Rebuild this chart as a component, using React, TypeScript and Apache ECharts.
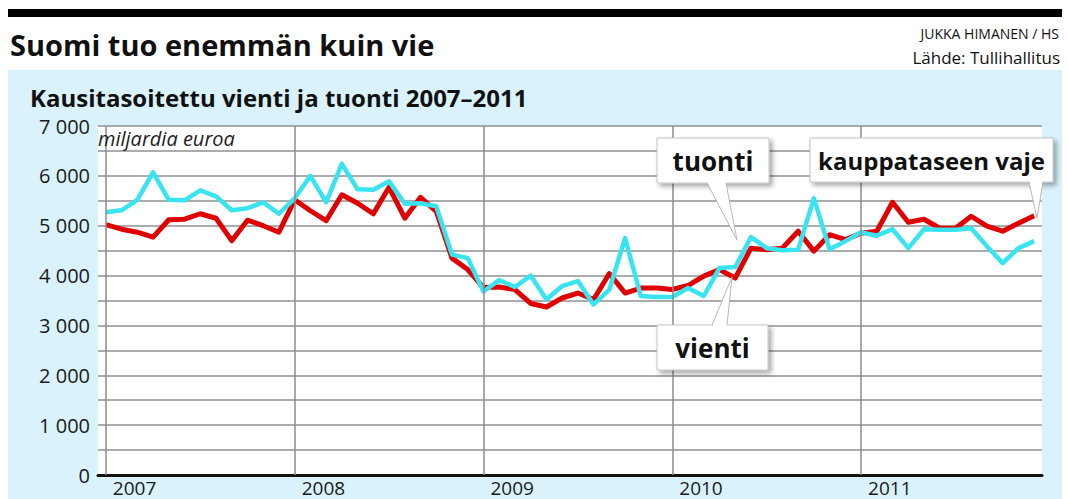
import React, { useEffect, useRef } from "react";
import * as echarts from "echarts";

const years = ["2007", "2008", "2009", "2010", "2011"];
const monthsPerYear = 12;
const months: string[] = [];
years.forEach((y) => {
  for (let m = 1; m <= monthsPerYear; m++) months.push(`${y}-${m < 10 ? "0" + m : m}`);
});

// vienti (export)
const vienti = [
  5020, 4930, 4870, 4770, 5120, 5130, 5240, 5150, 4700, 5110, 5000, 4870,
  5520, 5300, 5100, 5620, 5450, 5240, 5770, 5150, 5570, 5290, 4350, 4120,
  3760, 3770, 3720, 3440, 3370, 3550, 3650, 3520, 4040, 3650, 3750, 3750,
  3720, 3800, 3990, 4120, 3950, 4550, 4520, 4550, 4890, 4490, 4820, 4720,
  4850, 4890, 5470, 5070, 5130, 4950, 4950, 5190, 4990, 4890, 5050, 5200,
];

// tuonti (import)
const tuonti = [
  5270, 5310, 5520, 6070, 5520, 5510, 5710, 5590, 5310, 5350, 5470, 5240,
  5550, 6000, 5470, 6240, 5730, 5720, 5890, 5440, 5450, 5390, 4420, 4350,
  3680, 3910, 3770, 4000, 3520, 3790, 3890, 3420, 3720, 4750, 3590, 3570,
  3570, 3750, 3590, 4150, 4170, 4770, 4550, 4510, 4520, 5550, 4530, 4690,
  4870, 4800, 4930, 4550, 4930, 4920, 4920, 4950, 4590, 4250, 4550, 4690,
];

const yearStartIdx = [0, 12, 24, 36, 48];

const FONT = "'Open Sans', 'DejaVu Sans', sans-serif";

function callout(
  box: { x: number; y: number; w: number; h: number },
  label: string,
  fontSize: number,
  wedge: number[][],
  baseY: number,
  up: boolean
) {
  const [a, b, tip] = wedge;
  const inset = up ? 1.5 : -1.5;
  return [
    {
      type: "rect",
      z: 100,
      shape: { x: box.x, y: box.y, width: box.w, height: box.h },
      style: {
        fill: "#ffffff",
        stroke: "#c4c4c4",
        lineWidth: 1,
        shadowBlur: 5,
        shadowOffsetX: 3,
        shadowOffsetY: 3,
        shadowColor: "rgba(0,0,0,0.35)",
      },
    },
    {
      type: "polygon",
      z: 101,
      shape: { points: [[a[0], baseY + inset], [b[0], baseY + inset], tip] },
      style: { fill: "#ffffff" },
    },
    {
      type: "polyline",
      z: 102,
      shape: { points: [a, tip, b] },
      style: { stroke: "#b8b8b8", lineWidth: 1, fill: null },
    },
    {
      type: "text",
      z: 103,
      x: box.x + box.w / 2,
      y: box.y + box.h / 2,
      style: {
        text: label,
        fontSize,
        fontWeight: "bold",
        fontFamily: FONT,
        fill: "#111",
        align: "center",
        verticalAlign: "middle",
        textAlign: "center",
        textVerticalAlign: "middle",
      },
    },
  ];
}

export default function App() {
  const ref = useRef<HTMLDivElement>(null);
  useEffect(() => {
    if (!ref.current) return;
    const chart = echarts.init(ref.current, undefined, { renderer: "svg" });
    const fmt = (v: number) =>
      v % 1000 === 0 ? String(v).replace(/\B(?=(\d{3})+(?!\d))/g, " ") : "";
    chart.setOption({
      animation: false,
      backgroundColor: "#ffffff",
      grid: {
        left: 98,
        top: 126,
        width: 944,
        height: 349,
        show: true,
        backgroundColor: "#ffffff",
        borderWidth: 0,
      },
      xAxis: {
        type: "category",
        data: months,
        boundaryGap: true,
        axisLine: { show: true, lineStyle: { color: "#111", width: 3 } },
        axisTick: { show: false },
        splitLine: { show: false },
        axisLabel: {
          interval: (i: number) => i % monthsPerYear === 0,
          formatter: (v: string) => v.slice(0, 4),
          align: "left",
          padding: [0, 0, 0, 7],
          margin: 3,
          fontSize: 19,
          fontFamily: FONT,
          color: "#1a1a1a",
        },
      },
      yAxis: {
        type: "value",
        min: 0,
        max: 7000,
        interval: 500,
        axisLine: { show: false },
        axisTick: { show: false },
        axisLabel: {
          formatter: fmt,
          margin: 8,
          fontSize: 20,
          fontFamily: FONT,
          color: "#1a1a1a",
        },
        splitLine: { show: true, lineStyle: { color: "#909090", width: 1.6 } },
      },
      series: [
        {
          type: "line",
          name: "years",
          data: [],
          z: 1,
          silent: true,
          markLine: {
            silent: true,
            symbol: ["none", "none"],
            label: { show: false },
            lineStyle: { color: "#8c8c8c", width: 1.5, type: "solid" },
            data: yearStartIdx.map((i) => ({ xAxis: months[i] })),
          },
        },
        {
          type: "line",
          name: "vienti",
          data: vienti,
          z: 3,
          symbol: "none",
          lineStyle: { color: "#e00000", width: 5, join: "round" },
        },
        {
          type: "line",
          name: "tuonti",
          data: tuonti,
          z: 4,
          symbol: "none",
          lineStyle: { color: "#38e4ef", width: 4.5, join: "round" },
        },
      ],
      graphic: [
        {
          type: "rect",
          z: -10,
          shape: { x: 8, y: 70, width: 1054, height: 429 },
          style: { fill: "#d9f2fb" },
        },
        {
          type: "rect",
          z: 10,
          shape: { x: 8, y: 9, width: 1054, height: 8 },
          style: { fill: "#000000" },
        },
        {
          type: "text",
          z: 10,
          x: 10,
          y: 44,
          style: {
            text: "Suomi tuo enemmän kuin vie",
            fontSize: 29,
            fontWeight: "bold",
            fontFamily: FONT,
            fill: "#111",
            verticalAlign: "middle",
            textVerticalAlign: "middle",
          },
        },
        {
          type: "text",
          z: 10,
          x: 1059,
          y: 33,
          style: {
            text: "JUKKA HIMANEN / HS",
            fontSize: 14,
            fontFamily: FONT,
            fill: "#111",
            align: "right",
            textAlign: "right",
            verticalAlign: "middle",
            textVerticalAlign: "middle",
          },
        },
        {
          type: "text",
          z: 10,
          x: 1060,
          y: 57,
          style: {
            text: "Lähde: Tullihallitus",
            fontSize: 17,
            fontFamily: FONT,
            fill: "#111",
            align: "right",
            textAlign: "right",
            verticalAlign: "middle",
            textVerticalAlign: "middle",
          },
        },
        {
          type: "text",
          z: 10,
          x: 30,
          y: 97,
          style: {
            text: "Kausitasoitettu vienti ja tuonti 2007–2011",
            fontSize: 24,
            fontWeight: "bold",
            fontFamily: FONT,
            fill: "#111",
            verticalAlign: "middle",
            textVerticalAlign: "middle",
          },
        },
        {
          type: "text",
          z: 10,
          x: 98,
          y: 138,
          style: {
            text: "miljardia euroa",
            fontSize: 20,
            fontStyle: "italic",
            fontFamily: FONT,
            fill: "#222",
            verticalAlign: "middle",
            textVerticalAlign: "middle",
          },
        },
        ...callout(
          { x: 657, y: 138, w: 112, h: 45 },
          "tuonti",
          26,
          [[707, 183], [726, 183], [737, 240]],
          183,
          false
        ),
        ...callout(
          { x: 810, y: 138, w: 243, h: 44 },
          "kauppataseen vaje",
          24,
          [[1029, 182], [1043, 182], [1037, 218]],
          182,
          false
        ),
        ...callout(
          { x: 657, y: 325, w: 111, h: 45 },
          "vienti",
          26,
          [[712, 325], [727, 325], [732, 277]],
          325,
          true
        ),
      ],
    });
    return () => chart.dispose();
  }, []);
  return (
    <div
      ref={ref}
      style={{ position: "fixed", left: 0, top: 0, width: 1068, height: 499 }}
    />
  );
}
